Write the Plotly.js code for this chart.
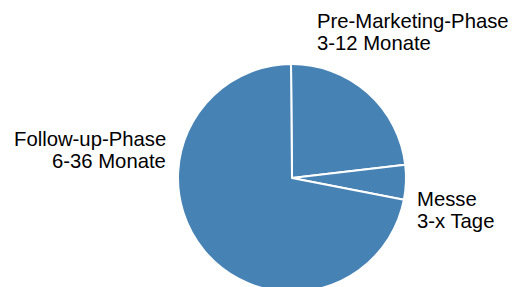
<!DOCTYPE html>
<html>
<head>
<meta charset="utf-8">
<script src="https://cdn.plot.ly/plotly-3.0.1.min.js"></script>
<style>
html,body{margin:0;padding:0;overflow:hidden;background:#fff;width:513px;height:287px;}
#chart{width:513px;height:400px;}
</style>
</head>
<body>
<div id="chart"></div>
<script>
// Data
const phases = ["Pre-Marketing-Phase", "Messe", "Follow-up-Phase"];
const durations = ["3-12 Monate", "3-x Tage", "6-36 Monate"];
const shares = [23.3, 4.9, 71.8];

// Label placement (paper coords, layout only)
const H = 400;
const labelPos = [
  {x: 316, base: 28, anchor: "left"},
  {x: 416, base: 206, anchor: "left"},
  {x: 167, base: 146, anchor: "right"}
];
const lineGap = 22;

const annotations = [];
phases.forEach((p, i) => {
  const lp = labelPos[i];
  [p, durations[i]].forEach((t, k) => {
    annotations.push({
      text: t, showarrow: false, xref: "paper", yref: "paper",
      x: lp.x / 513, y: 1 - (lp.base + k * lineGap + 5) / H,
      xanchor: lp.anchor, yanchor: "bottom",
      font: {family: "Liberation Sans, Arial, sans-serif", size: 20.3, color: "#000"},
      borderpad: 0
    });
  });
});

const trace = {
  type: "pie",
  labels: phases,
  values: shares,
  sort: false,
  direction: "clockwise",
  rotation: -0.5,
  textinfo: "none",
  hoverinfo: "label+percent",
  marker: {colors: ["#4682b4", "#4682b4", "#4682b4"], line: {color: "#ffffff", width: 2}},
  domain: {x: [178 / 513, 406 / 513], y: [1 - 292 / H, 1 - 64 / H]},
  showlegend: false
};

Plotly.newPlot("chart", [trace], {
  width: 513, height: H,
  margin: {l: 0, r: 0, t: 0, b: 0},
  paper_bgcolor: "#fff",
  showlegend: false,
  annotations: annotations
}, {displayModeBar: false, staticPlot: true});
</script>
</body>
</html>
